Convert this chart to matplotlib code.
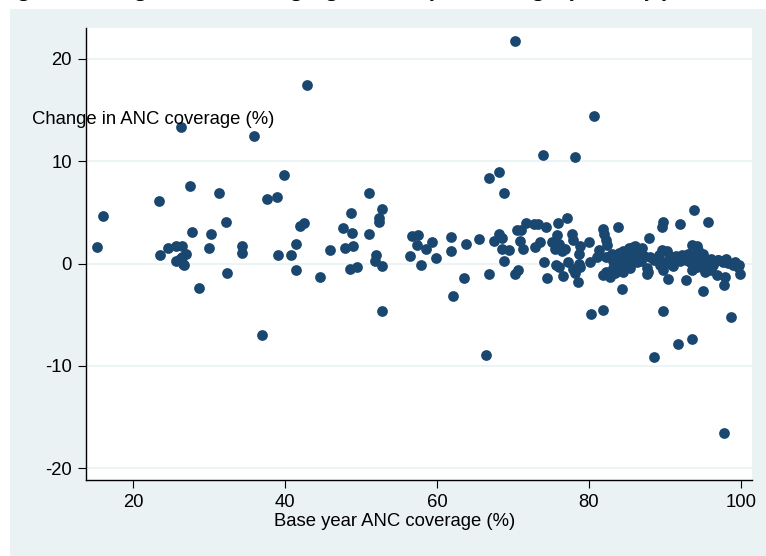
import matplotlib
matplotlib.use("Agg")
import matplotlib.pyplot as plt
from matplotlib.patches import Rectangle

plt.rcParams['font.family'] = ['Liberation Sans', 'DejaVu Sans']
plt.rcParams['axes.unicode_minus'] = False

# base year ANC coverage (%), change in ANC coverage (%)
base_cov = [
    15.3, 16.1, 23.4, 23.6, 24.6, 25.7, 26.5, 25.7, 26.4, 27.0, 26.6, 26.2, 26.7,
    26.3, 27.5, 27.8, 28.7, 30.0, 30.2, 31.3, 32.2, 32.3, 34.3, 34.3, 35.9, 36.9,
    37.6, 39.0, 39.9, 39.1, 40.8, 41.4, 41.9, 42.5, 41.5, 42.9, 44.6, 45.9, 47.6,
    47.9, 48.7, 48.8, 48.9, 48.6, 49.4, 51.0, 51.0, 52.3, 52.4, 52.8, 52.0, 51.8,
    52.7, 52.8, 56.4, 56.7, 57.5, 57.4, 57.9, 58.5, 59.3, 59.9, 61.9, 61.9, 62.1,
    63.5, 63.8, 65.5, 66.4, 66.8, 66.9, 67.5, 68.1, 68.6, 68.1, 68.8, 68.6, 69.5,
    68.8, 70.2, 70.5, 71.1, 70.3, 70.7, 70.9, 71.3, 71.7, 72.8, 73.3, 72.9, 73.5,
    73.9, 74.4, 74.1, 74.5, 75.1, 75.8, 75.9, 76.0, 75.5, 76.4, 76.8, 75.7, 76.1,
    76.6, 77.1, 77.3, 77.8, 77.9, 77.9, 78.1, 78.2, 78.6, 78.7, 78.8, 78.8, 78.7,
    80.0, 80.1, 80.3, 80.7, 81.0, 81.3, 81.8, 81.9, 82.0, 82.2, 82.4, 81.9, 82.3,
    82.8, 82.8, 83.2, 83.4, 83.8, 83.9, 84.1, 83.2, 82.3, 83.4, 84.3, 84.5, 84.5,
    85.0, 85.2, 85.4, 85.6, 85.8, 86.3, 86.3, 86.7, 87.2, 87.6, 87.6, 87.8, 87.9,
    88.5, 88.6, 89.2, 89.4, 89.6, 89.6, 89.7, 89.8, 89.8, 90.3, 90.4, 90.7, 91.2,
    91.5, 91.7, 92.0, 92.2, 92.8, 92.8, 93.3, 93.5, 93.5, 93.6, 93.8, 93.9, 94.2,
    94.2, 94.4, 94.6, 94.8, 95.0, 95.3, 95.3, 95.7, 95.7, 96.0, 96.3, 96.8, 96.95,
    97.6, 97.8, 97.9, 97.8, 98.3, 98.7, 98.95, 99.6, 99.9, 99.8,
    84.0, 84.8, 85.5, 86.0, 86.8, 85.0, 84.0, 83.0, 90.0, 91.0, 92.0, 93.0, 94.0,
    95.0, 96.0, 87.0, 86.0, 88.0, 90.8, 92.5, 97.0, 98.0, 99.2,
]
change_cov = [
    1.6, 4.7, 6.1, 0.8, 1.5, 1.7, 1.7, 0.3, 0.65, 0.9, 0.0, 0.5, -0.1,
    13.4, 7.6, 3.1, -2.35, 1.5, 2.85, 6.9, 4.1, -0.9, 1.7, 1.05, 12.5, -7.0,
    6.3, 6.5, 8.7, 0.8, 0.8, 1.9, 3.7, 4.0, -0.65, 17.5, -1.3, 1.3, 3.5,
    1.5, 4.9, 3.0, 1.7, -0.55, -0.3, 6.95, 2.9, 4.45, 4.1, 5.3, 0.8, 0.25,
    -0.25, -4.6, 0.7, 2.7, 2.8, 1.8, -0.1, 1.4, 2.1, 0.55, 2.6, 1.2, -3.2,
    -1.4, 1.9, 2.4, -8.9, -1.0, 8.4, 2.2, 2.9, 2.5, 9.0, 6.95, 1.4, 1.3,
    0.3, 21.8, 3.3, 3.3, -1.0, -0.6, 2.2, 1.4, 4.0, 3.9, 3.85, 1.6, 2.1,
    10.6, 3.6, 0.15, -1.45, 2.1, 2.8, 4.0, 1.95, 1.4, 1.2, 1.4, -0.1, -0.3,
    -1.25, 4.45, 0.15, 2.9, 2.3, -0.5, -0.9, 10.4, -1.8, 0.95, 1.7, -0.3, 0.0,
    2.1, 0.15, -4.9, 14.4, 0.65, 1.3, -4.5, 3.4, 2.9, 2.3, 1.8, -1.1, 0.65,
    0.7, -1.3, 0.3, 0.35, 3.6, 0.85, -0.15, -0.45, -0.8, -0.95, -2.5, 1.2, -0.8,
    0.2, 1.5, -0.45, 0.5, 1.65, 1.35, 0.2, 1.0, 0.7, -0.45, -1.0, -0.8, 2.5,
    0.35, -9.1, 0.85, -0.15, 1.35, 3.6, 4.1, -0.6, -4.6, 1.2, -1.5, 0.7, 0.35,
    0.7, -7.9, 3.85, 0.85, 0.35, -1.65, 0.2, 1.8, -0.6, -7.4, 5.2, 0.85, 1.75,
    -0.3, 1.35, 0.5, -0.15, -2.65, 0.35, -0.8, 0.2, 4.1, -0.6, -0.15, -1.15, 0.35,
    0.2, -16.6, -1.3, -2.1, 0.03, -5.2, -0.15, -0.3, -1.0, -0.15,
    1.0, 0.6, 1.1, 0.8, 0.3, -0.2, 0.4, 0.9, 0.2, -0.2, 0.3, 0.9, 0.2,
    0.9, 0.5, 1.5, 1.7, 0.6, 0.0, 0.5, 0.4, 0.5, 0.2,
]

x_ticks = [20, 40, 60, 80, 100]
y_ticks = [-20, -10, 0, 10, 20]

W, H = 766, 556
fig = plt.figure(figsize=(W / 100, H / 100), dpi=100)
fig.patch.set_facecolor('white')
panel = Rectangle((10 / W, 0), 1, (H - 9) / H, transform=fig.transFigure,
                  facecolor='#eaf2f3', edgecolor='none', zorder=-10)
fig.add_artist(panel)

ax = fig.add_axes([86 / W, (H - 480) / H, (752 - 86) / W, (480 - 28) / H])
ax.set_zorder(2)
ax.set_facecolor('white')
ax.scatter(base_cov, change_cov, s=60, color='#1a476f', linewidths=0, zorder=3)

ax.set_xlim(13.8, 101.45)
ax.set_ylim(-21.15, 23.03)
ax.set_xticks(x_ticks)
ax.set_yticks(y_ticks)
ax.yaxis.grid(True, color='#eaf2f3', linewidth=1.2)
ax.set_axisbelow(True)
for side in ['top', 'right']:
    ax.spines[side].set_visible(False)
for side in ['left', 'bottom']:
    ax.spines[side].set_linewidth(1.0)
    ax.spines[side].set_color('black')
ax.tick_params(axis='both', direction='out', length=6, width=0.8, labelsize=13.3)
ax.tick_params(axis='y', pad=4)
ax.tick_params(axis='x', pad=4)

ylab = fig.text(32 / W, 1 - 120 / H, 'Change in ANC coverage (%)', fontsize=13.3,
                ha='left', va='center')
ylab.set_zorder(5)
fig.text(395 / W, 1 - 522 / H, 'Base year ANC coverage (%)', fontsize=13.3,
         ha='center', va='center')
# title cut off at the top edge, only descenders show
fig.text(0.0, 1 + 4 / H, 'Figure 2: Change in ANC coverage against base year coverage by country-year',
         fontsize=15, fontweight='bold', family=['Liberation Serif', 'DejaVu Serif'],
         ha='left', va='baseline')

fig.savefig('out.png', dpi=100)
